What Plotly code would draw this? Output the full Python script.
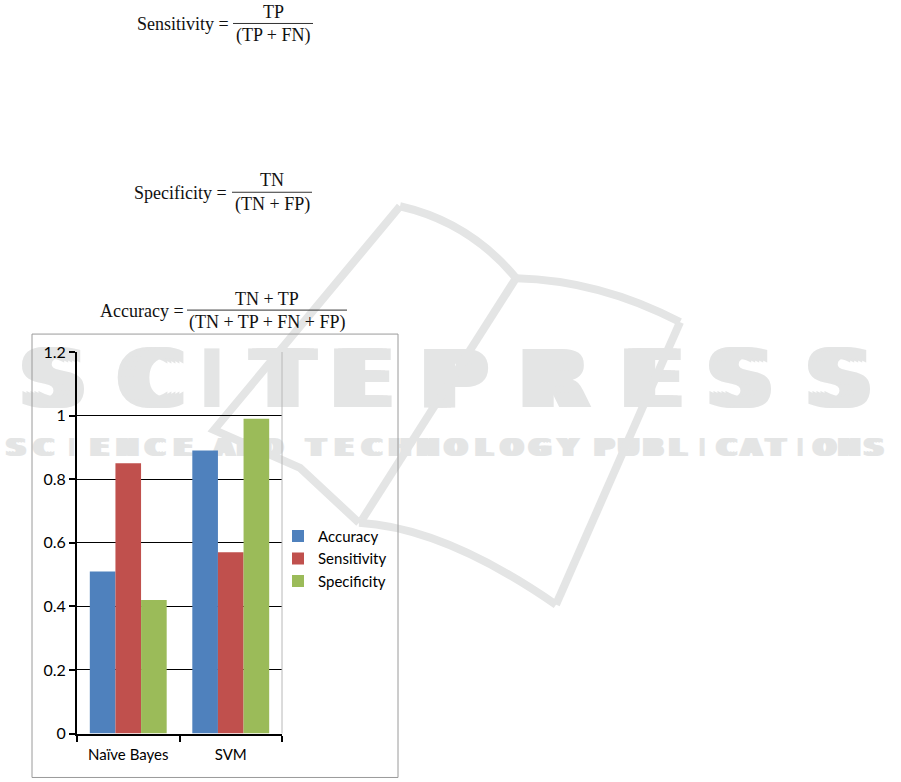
import plotly.graph_objects as go

W, H = 901, 782

# ---- data ----
categories = ["Naïve Bayes", "SVM"]
series_names = ["Accuracy", "Sensitivity", "Specificity"]
accuracy = [0.51, 0.89]
sensitivity = [0.85, 0.57]
specificity = [0.42, 0.99]
ytick_vals = [0, 0.2, 0.4, 0.6, 0.8, 1.0, 1.2]
ytick_text = ["0", "0.2", "0.4", "0.6", "0.8", "1", "1.2"]
colors = ["#4f81bd", "#c0504d", "#9bbb59"]

# vertical calibration of the rendered page (measured)
VS, VO = 0.977, 9.5


def px(x):
    return x / W


def py(y):
    return 1 - ((y - VO) / VS) / H


fig = go.Figure()
for name, vals, c in zip(series_names, [accuracy, sensitivity, specificity], colors):
    fig.add_trace(go.Bar(x=categories, y=vals, name=name,
                         marker=dict(color=c, line=dict(width=0))))

shapes = []
annotations = []

# ---- watermark (drawn below the traces) ----
WM = "#e4e5e5"


def wm_letter(ch, cx, cy, size, half_w, half_h, offsets):
    for off in offsets:
        shapes.append(dict(type="rect", xref="paper", yref="paper", layer="below",
                           x0=px(cx + off - half_w), x1=px(cx + off + half_w),
                           y0=py(cy + half_h), y1=py(cy - half_h),
                           line=dict(width=0), fillcolor="rgba(0,0,0,0)",
                           label=dict(text=ch, textposition="middle center",
                                      font=dict(family="DejaVu Sans", size=size, color=WM,
                                                weight="bold"))))


big_letters = "SCITEPRESS"
big_centers = [53, 151, 212, 283, 362, 454, 554, 652, 740, 839]
for ch, cx in zip(big_letters, big_centers):
    wm_letter(ch, cx, 373, 80, 50, 40, [0] if ch == "I" else [-8, -4, 0, 4, 8])

small_words = [("SCIENCE", 2, 197), ("AND", 212, 284), ("TECHNOLOGY", 302, 582), ("PUBLICATIONS", 592, 886)]
for word, a, b in small_words:
    step = (b - a) / len(word)
    for i, ch in enumerate(word):
        cx = a + (i + 0.5) * step
        wm_letter(ch, cx, 446, 25, 16, 14, [0] if ch == "I" else [-3, 0, 3])


def P(x, y):
    return f"{px(x):.5f},{py(y):.5f}"


book_paths = [
    f"M{P(400,206)} L{P(214,430)} L{P(300,468)} L{P(359,523)}",
    f"M{P(516,278)} L{P(362,520)}",
    f"M{P(400,206)} Q{P(470,222)} {P(516,278)}",
    f"M{P(516,278)} Q{P(600,280)} {P(680,322)}",
    f"M{P(680,322)} L{P(556,605)}",
    f"M{P(359,523)} Q{P(445,528)} {P(556,605)}",
]
for pth in book_paths:
    shapes.append(dict(type="path", path=pth, xref="paper", yref="paper", layer="below",
                       line=dict(color=WM, width=8)))

# ---- formulas ----
SERIF = "Liberation Serif, Times New Roman, serif"
FCOL = "#111111"
formulas = [
    # label, label right x, label y, numerator, denominator, line x0, line x1, line y, num y, den y
    ("Sensitivity =", 231, 24, "TP", "(TP + FN)", 233, 313, 23, 12, 35),
    ("Specificity =", 229, 193, "TN", "(TN + FP)", 232, 312, 192, 180, 204),
    ("Accuracy =", 186, 311, "TN + TP", "(TN + TP + FN + FP)", 187, 347, 310, 299, 322),
]
for lab, lx, ly, num, den, x0, x1, yl, yn, yd in formulas:
    annotations.append(dict(text=lab, x=px(lx), y=py(ly), xref="paper", yref="paper",
                            xanchor="right", yanchor="middle", showarrow=False,
                            font=dict(family=SERIF, size=18, color=FCOL)))
    xc = (x0 + x1) / 2
    annotations.append(dict(text=num, x=px(xc), y=py(yn), xref="paper", yref="paper",
                            xanchor="center", yanchor="middle", showarrow=False,
                            font=dict(family=SERIF, size=18, color=FCOL)))
    annotations.append(dict(text=den, x=px(xc), y=py(yd), xref="paper", yref="paper",
                            xanchor="center", yanchor="middle", showarrow=False,
                            font=dict(family=SERIF, size=18, color=FCOL)))
    shapes.append(dict(type="line", xref="paper", yref="paper", x0=px(x0), x1=px(x1),
                       y0=py(yl), y1=py(yl), line=dict(color="#333333", width=1)))

# ---- chart frame and right plot edge ----
shapes.append(dict(type="rect", xref="paper", yref="paper", x0=px(32), x1=px(398),
                   y0=py(778), y1=py(334), line=dict(color="#9a9a9a", width=1),
                   fillcolor="rgba(0,0,0,0)"))
shapes.append(dict(type="line", xref="x domain", yref="y domain", x0=1, x1=1, y0=0, y1=1,
                   line=dict(color="#b8b8b8", width=1)))

CH_FONT = "Lato, Carlito, Calibri, sans-serif"
fig.update_layout(
    width=W, height=H, margin=dict(l=0, r=0, t=0, b=0),
    paper_bgcolor="white", plot_bgcolor="rgba(0,0,0,0)",
    barmode="group", bargap=0.25, bargroupgap=0,
    font=dict(family=CH_FONT, size=15, color="#000000"),
    xaxis=dict(domain=[px(77), px(282)], showline=True, linecolor="black", linewidth=2,
               ticks="outside", ticklen=6, tickwidth=1.5, tickcolor="black",
               tickson="boundaries", showgrid=False, zeroline=False, ticklabelstandoff=6,
               tickfont=dict(family=CH_FONT, size=15, color="#000000"), fixedrange=True),
    yaxis=dict(domain=[py(734), py(352)], range=[0, 1.2], tickvals=ytick_vals, ticktext=ytick_text,
               showgrid=True, gridcolor="black", gridwidth=1.2, zeroline=False,
               showline=True, linecolor="black", linewidth=2,
               ticks="outside", ticklen=6, tickwidth=1.5, tickcolor="black",
               tickfont=dict(family=CH_FONT, size=16, color="#000000"), fixedrange=True),
    legend=dict(x=px(278), xanchor="left", y=py(559), yanchor="middle",
                font=dict(family=CH_FONT, size=15, color="#000000"),
                bgcolor="rgba(0,0,0,0)", traceorder="normal", borderwidth=0),
    showlegend=True,
    shapes=shapes,
    annotations=annotations,
)

fig.write_html(
    "out.html",
    config={"displayModeBar": False},
    post_script="document.body.style.margin='0';document.body.style.overflow='hidden';",
)
